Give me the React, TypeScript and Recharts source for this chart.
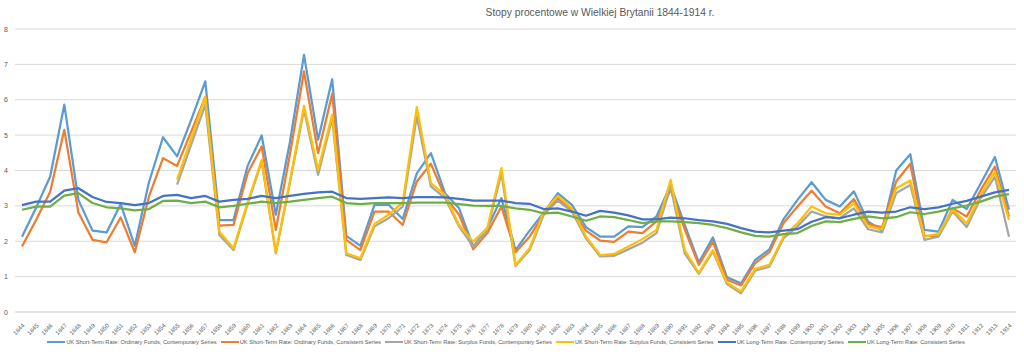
import React from 'react';
import {
  LineChart,
  Line,
  XAxis,
  YAxis,
  CartesianGrid,
  Legend,
} from 'recharts';

const years = [
  '1844', '1845', '1846', '1847', '1848', '1849', '1850', '1851', '1852', '1853',
  '1854', '1855', '1856', '1857', '1858', '1859', '1860', '1861', '1862', '1863',
  '1864', '1865', '1866', '1867', '1868', '1869', '1870', '1871', '1872', '1873',
  '1874', '1875', '1876', '1877', '1878', '1879', '1880', '1881', '1882', '1883',
  '1884', '1885', '1886', '1887', '1888', '1889', '1890', '1891', '1892', '1893',
  '1894', '1895', '1896', '1897', '1898', '1899', '1900', '1901', '1902', '1903',
  '1904', '1905', '1906', '1907', '1908', '1909', '1910', '1911', '1912', '1913',
  '1914',
];

// UK Short-Term Rate: Ordinary Funds, Contemporary Series
const ordinaryContemporary = [
  2.13, 2.95, 3.83, 5.86, 3.17, 2.3, 2.25, 3.05, 1.87, 3.66,
  4.94, 4.4, 5.43, 6.52, 2.6, 2.6, 4.13, 4.99, 2.75, 4.8,
  7.27, 4.87, 6.58, 2.15, 1.87, 3.03, 3.03, 2.63, 3.92, 4.49,
  3.36, 2.93, 1.85, 2.37, 3.22, 1.75, 2.3, 2.81, 3.36, 3.03,
  2.4, 2.13, 2.13, 2.42, 2.4, 2.7, 3.59, 2.46, 1.4, 2.11,
  0.98, 0.81, 1.47, 1.77, 2.62, 3.17, 3.67, 3.17, 2.98, 3.41,
  2.56, 2.3, 4.0, 4.46, 2.32, 2.27, 3.17, 2.91, 3.64, 4.38,
  2.89,
];

// UK Short-Term Rate: Ordinary Funds, Consistent Series
const ordinaryConsistent = [
  1.85, 2.6, 3.4, 5.15, 2.81, 2.04, 1.97, 2.67, 1.69, 3.26,
  4.35, 4.13, 5.1, 6.08, 2.44, 2.46, 3.92, 4.68, 2.32, 4.45,
  6.8, 4.49, 6.17, 2.04, 1.75, 2.84, 2.84, 2.46, 3.69, 4.19,
  3.26, 2.75, 1.77, 2.23, 2.98, 1.69, 2.13, 2.76, 3.22, 2.87,
  2.3, 2.02, 1.98, 2.27, 2.23, 2.56, 3.47, 2.34, 1.33, 1.99,
  0.91, 0.75, 1.38, 1.69, 2.51, 2.98, 3.43, 2.98, 2.79, 3.19,
  2.49, 2.39, 3.69, 4.19, 2.15, 2.15, 2.93, 2.7, 3.45, 4.11,
  2.7,
];

// UK Short-Term Rate: Surplus Funds, Contemporary Series
const surplusContemporary = [
  null, null, null, null, null, null, null, null, null, null,
  null, 3.6, 4.73, 5.86, 2.18, 1.75, 3.05, 4.25, 1.66, 3.65,
  5.72, 3.88, 5.48, 1.61, 1.47, 2.42, 2.65, 2.98, 5.53, 3.55,
  3.22, 2.42, 1.85, 2.32, 3.92, 1.3, 1.75, 2.75, 3.15, 2.84,
  2.08, 1.57, 1.59, 1.77, 1.96, 2.23, 3.55, 1.66, 1.08, 1.71,
  0.79, 0.53, 1.17, 1.28, 2.08, 2.42, 2.84, 2.7, 2.65, 2.93,
  2.34, 2.25, 3.36, 3.59, 2.04, 2.13, 2.84, 2.4, 3.22, 3.83,
  2.13,
];

// UK Short-Term Rate: Surplus Funds, Consistent Series
const surplusConsistent = [
  null, null, null, null, null, null, null, null, null, null,
  null, 3.74, 4.9, 6.08, 2.27, 1.8, 3.1, 4.3, 1.69, 3.7,
  5.83, 4.02, 5.58, 1.66, 1.52, 2.49, 2.75, 3.09, 5.79, 3.64,
  3.31, 2.46, 1.99, 2.37, 4.07, 1.33, 1.8, 2.84, 3.28, 2.93,
  2.13, 1.61, 1.64, 1.85, 2.06, 2.32, 3.74, 1.75, 1.11, 1.75,
  0.83, 0.58, 1.22, 1.33, 2.13, 2.51, 2.98, 2.79, 2.75, 3.08,
  2.42, 2.34, 3.5, 3.72, 2.13, 2.21, 2.89, 2.51, 3.31, 3.97,
  2.6,
];

// UK Long-Term Rate: Contemporary Series
const longContemporary = [
  3.02, 3.12, 3.12, 3.43, 3.5, 3.25, 3.11, 3.08, 3.02, 3.08,
  3.28, 3.31, 3.22, 3.28, 3.12, 3.17, 3.2, 3.28, 3.22, 3.28,
  3.34, 3.38, 3.4, 3.22, 3.2, 3.22, 3.24, 3.22, 3.25, 3.25,
  3.24, 3.2, 3.15, 3.15, 3.15, 3.08, 3.06, 2.91, 2.93, 2.84,
  2.72, 2.86, 2.81, 2.73, 2.62, 2.62, 2.67, 2.65, 2.6, 2.56,
  2.49, 2.37, 2.27, 2.25, 2.3, 2.34, 2.55, 2.68, 2.65, 2.75,
  2.84, 2.81, 2.84, 2.96, 2.91, 2.96, 3.06, 3.14, 3.26, 3.38,
  3.45,
];

// UK Long-Term Rate: Consistent Series
const longConsistent = [
  2.89, 2.98, 2.98, 3.29, 3.36, 3.08, 2.96, 2.93, 2.87, 2.91,
  3.14, 3.15, 3.08, 3.12, 2.96, 3.0, 3.06, 3.12, 3.08, 3.12,
  3.17, 3.22, 3.26, 3.08, 3.05, 3.08, 3.08, 3.08, 3.09, 3.09,
  3.09, 3.05, 3.01, 3.0, 3.0, 2.93, 2.89, 2.79, 2.81, 2.7,
  2.58, 2.7, 2.68, 2.6, 2.51, 2.56, 2.56, 2.54, 2.51, 2.46,
  2.37, 2.25, 2.15, 2.13, 2.2, 2.23, 2.43, 2.56, 2.54, 2.63,
  2.7, 2.65, 2.68, 2.82, 2.77, 2.84, 2.93, 3.01, 3.12, 3.26,
  3.33,
];

const yTicks = [0, 1, 2, 3, 4, 5, 6, 7, 8];

const series = [
  { key: 'ordC', name: 'UK Short-Term Rate: Ordinary Funds, Contemporary Series', color: '#5b9bd5', values: ordinaryContemporary },
  { key: 'ordK', name: 'UK Short-Term Rate: Ordinary Funds, Consistent Series', color: '#ed7d31', values: ordinaryConsistent },
  { key: 'surC', name: 'UK Short-Term Rate: Surplus Funds, Contemporary Series', color: '#a5a5a5', values: surplusContemporary },
  { key: 'surK', name: 'UK Short-Term Rate: Surplus Funds, Consistent Series', color: '#ffc000', values: surplusConsistent },
  { key: 'lonC', name: 'UK Long-Term Rate: Contemporary Series', color: '#4472c4', values: longContemporary },
  { key: 'lonK', name: 'UK Long-Term Rate: Consistent Series', color: '#70ad47', values: longConsistent },
];

const data = years.map((year, i) => {
  const row: Record<string, string | number | null> = { year };
  series.forEach((s) => {
    row[s.key] = s.values[i];
  });
  return row;
});

const FONT = '"Liberation Sans Narrow", "Liberation Sans", Arial, sans-serif';
const TEXT = '#595959';

const YearTick = ({ x, y, payload }: any) => (
  <text
    transform={`translate(${x + 3}, ${y + 6}) rotate(-45)`}
    textAnchor='end'
    fontSize={6}
    fontFamily={FONT}
    fill={TEXT}
  >
    {payload.value}
  </text>
);

const ValueTick = ({ y, payload }: any) => (
  <text x={8} y={y + 2.5} textAnchor='end' fontSize={7} fontFamily={FONT} fill={TEXT}>
    {payload.value}
  </text>
);

const LegendRow = () => (
  <div
    style={{
      display: 'flex',
      justifyContent: 'center',
      alignItems: 'center',
      height: 14,
      fontFamily: FONT,
      fontSize: 5.7,
      color: TEXT,
      whiteSpace: 'nowrap',
    }}
  >
    {series.map((s) => (
      <div key={s.key} style={{ display: 'flex', alignItems: 'center', marginRight: 4 }}>
        <span style={{ width: 18, height: 2, background: s.color, marginRight: 1 }} />
        <span>{s.name}</span>
      </div>
    ))}
  </div>
);

export default function App() {
  return (
    <div style={{ position: 'absolute', left: 0, top: 0, width: 1024, height: 355, background: '#fff' }}>
      <div
        style={{
          position: 'absolute',
          left: 0,
          width: 1200,
          top: 7,
          textAlign: 'center',
          fontFamily: FONT,
          fontSize: 10.3,
          color: TEXT,
        }}
      >
        Stopy procentowe w Wielkiej Brytanii 1844-1914 r.
      </div>
      <LineChart
        width={1024}
        height={355}
        data={data}
        margin={{ top: 29, right: 8, left: 0, bottom: 2 }}
      >
        <CartesianGrid vertical={false} stroke='#d9d9d9' />
        <XAxis
          dataKey='year'
          interval={0}
          tickLine={false}
          axisLine={{ stroke: '#d9d9d9' }}
          tick={<YearTick />}
          padding={{ left: 7, right: 7 }}
          height={27}
        />
        <YAxis
          width={15}
          domain={[0, 8]}
          ticks={yTicks}
          tickLine={false}
          axisLine={false}
          tick={<ValueTick />}
        />
        <Legend verticalAlign='bottom' content={<LegendRow />} wrapperStyle={{ bottom: 6 }} />
        {series.map((s) => (
          <Line
            key={s.key}
            type='linear'
            dataKey={s.key}
            name={s.name}
            stroke={s.color}
            strokeWidth={2.25}
            dot={false}
            isAnimationActive={false}
            strokeLinejoin='round'
          />
        ))}
      </LineChart>
    </div>
  );
}
